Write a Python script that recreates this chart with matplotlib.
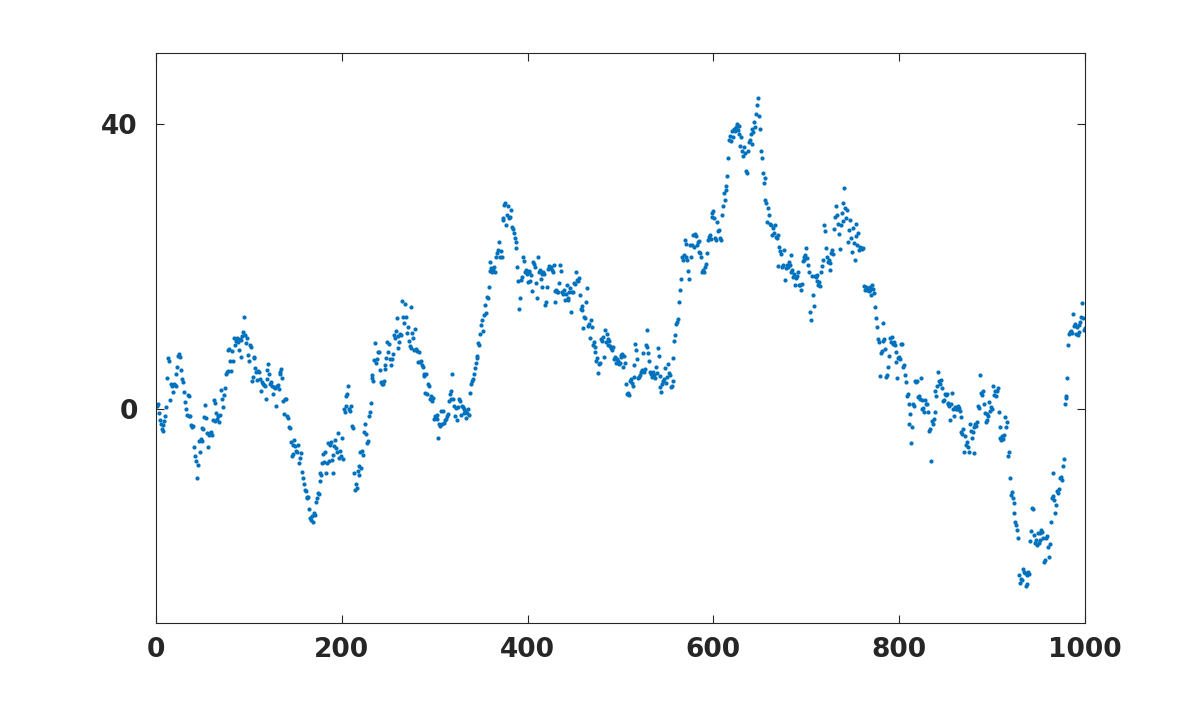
import numpy as np
import matplotlib
matplotlib.use("Agg")
import matplotlib.pyplot as plt

# random walk values, one per step (steps 1..1000)
walk = [
    0.5, 0.8, -0.5, -1.5, -2.0, -2.8, -3.0, -2.2, -1.6, -1.0,
    0.3, 4.4, 7.2, 6.8, 1.3, 3.5, 3.3, 2.4, 3.6, 3.4,
    5.0, 3.2, 6.0, 7.5, 7.8, 7.3, 5.5, 4.2, 3.8, 2.4,
    1.0, 0.0, -0.8, 2.0, 1.8, -1.0, -0.9, -2.2, -2.5, -2.4,
    -5.3, -6.5, -7.3, -9.7, -7.8, -4.5, -6.0, -4.2, -4.4, -2.6,
    -2.8, -1.1, 0.6, -1.2, -3.3, -5.3, -3.6, -3.4, -3.2, -3.6,
    -1.5, 1.3, 0.9, -1.6, -0.5, -1.3, -1.0, -1.8, -0.8, 2.7,
    1.4, 0.3, 2.0, 3.0, 5.0, 5.2, 5.4, 8.3, 8.5, 6.8,
    5.4, 8.2, 6.8, 10.0, 9.0, 9.6, 10.0, 9.5, 8.3, 9.8,
    7.3, 9.7, 10.3, 10.8, 13.0, 10.4, 9.3, 10.0, 7.6, 6.8,
    9.0, 8.8, 4.0, 4.5, 7.4, 7.2, 5.8, 5.3, 4.1, 5.4,
    5.2, 4.2, 2.5, 3.8, 3.5, 3.4, 3.2, 1.5, 4.2, 5.5,
    6.4, 5.0, 3.5, 3.8, 3.3, 2.1, 3.1, 3.0, 0.4, 3.2,
    3.4, 2.9, 5.3, 5.0, 5.6, 4.4, 1.2, -0.6, 1.4, 1.5,
    -1.0, -1.2, -2.5, -2.6, -4.6, -6.5, -5.0, -6.3, -4.3, -5.2,
    -5.8, -6.0, -5.0, -7.6, -6.8, -6.2, -8.8, -9.6, -10.5, -11.3,
    -11.5, -12.3, -12.5, -12.3, -14.0, -15.2, -15.6, -15.0, -15.8, -14.5,
    -14.8, -13.0, -12.5, -11.7, -11.9, -10.0, -8.9, -9.2, -7.5, -6.3,
    -7.4, -6.0, -9.0, -7.6, -4.8, -7.3, -5.0, -4.6, -7.1, -6.4,
    -8.9, -5.1, -4.3, -5.5, -6.0, -3.4, -6.8, -5.8, -6.5, -4.0,
    -7.0, 0.0, -0.4, 1.8, 0.5, 2.2, 3.2, 0.0, -0.2, 0.4,
    -2.3, -2.6, -8.9, -11.3, -10.5, -11.0, -8.6, -9.2, -8.0, -6.0,
    -8.3, -5.8, -6.4, -3.2, -2.0, -3.5, -4.8, -4.5, -1.0, -0.4,
    0.9, 4.4, 4.8, 4.0, 6.9, 9.3, 6.5, 7.1, 8.0, 8.0,
    5.5, 3.8, 3.5, 3.6, 3.9, 5.6, 6.2, 7.2, 9.4, 8.0,
    9.2, 7.0, 6.2, 7.0, 7.7, 10.4, 10.0, 11.0, 12.8, 10.3,
    8.6, 9.5, 10.6, 10.4, 15.2, 13.0, 12.1, 14.8, 13.0, 10.7,
    11.6, 9.6, 8.9, 8.6, 14.4, 10.7, 10.0, 8.3, 11.2, 8.5,
    8.2, 6.6, 8.0, 6.6, 6.8, 6.2, 6.0, 4.9, 4.6, 2.3,
    4.9, 2.2, 3.5, 3.3, 1.5, 1.8, 1.2, 1.6, -1.4, -1.0,
    -0.9, -1.4, -0.8, -4.0, -2.1, -2.4, -0.2, -2.0, -0.3, -1.9,
    -1.5, -1.3, -1.0, -0.6, 1.2, 2.1, 1.5, 2.6, 4.9, 1.4,
    0.5, -1.0, 0.2, -1.5, 0.3, 1.5, 1.2, -0.8, 0.5, 0.3,
    -0.5, 0.0, -0.3, -1.2, -0.5, 0.1, -0.8, 2.3, 3.5, 3.9,
    4.2, 5.0, 5.8, 6.5, 7.5, 7.2, 9.3, 9.0, 10.5, 11.8,
    12.5, 11.0, 13.2, 14.6, 13.5, 15.8, 15.6, 17.2, 20.6, 19.4,
    19.8, 19.2, 19.6, 20.0, 19.3, 21.3, 22.0, 22.4, 23.5, 21.3,
    22.2, 21.4, 26.8, 26.5, 28.7, 28.9, 25.8, 27.2, 28.5, 26.8,
    27.0, 27.9, 25.6, 25.3, 24.8, 24.0, 22.7, 23.5, 20.0, 18.0,
    14.1, 15.6, 18.2, 18.5, 21.4, 20.8, 19.3, 19.6, 19.0, 17.9,
    19.4, 19.2, 18.0, 18.9, 16.6, 20.6, 20.4, 20.0, 17.7, 15.6,
    21.4, 19.2, 19.5, 18.3, 19.0, 17.2, 19.3, 19.0, 14.6, 15.0,
    17.2, 19.7, 20.1, 19.8, 20.0, 19.6, 19.3, 20.2, 16.6, 15.1,
    16.8, 16.4, 16.5, 17.7, 20.3, 19.4, 16.5, 16.2, 16.7, 15.4,
    16.2, 17.5, 15.6, 15.4, 16.5, 17.0, 13.7, 16.5, 16.4, 17.7,
    17.6, 19.3, 18.2, 18.0, 18.4, 16.0, 14.1, 14.5, 14.0, 11.4,
    13.0, 12.8, 15.0, 17.0, 11.7, 12.0, 10.0, 12.5, 11.6, 9.0,
    9.4, 8.8, 8.0, 6.8, 7.2, 5.1, 6.3, 6.5, 9.9, 9.6,
    10.1, 7.3, 11.1, 9.4, 10.5, 9.8, 9.0, 9.6, 8.9, 8.6,
    8.3, 8.8, 7.0, 7.4, 6.5, 7.1, 6.8, 6.3, 6.5, 7.6,
    7.3, 7.8, 5.9, 7.5, 6.5, 3.5, 2.1, 2.3, 2.0, 3.9,
    4.2, 3.7, 3.2, 4.5, 6.2, 9.2, 8.3, 7.0, 4.4, 4.5,
    4.8, 5.3, 5.5, 7.9, 5.2, 5.6, 9.0, 8.8, 11.1, 7.9,
    6.8, 5.3, 5.0, 4.5, 5.2, 4.8, 4.4, 6.0, 5.1, 8.6,
    7.5, 4.6, 3.1, 2.4, 3.6, 3.9, 4.2, 5.8, 3.7, 4.5,
    6.3, 5.1, 4.8, 3.1, 3.3, 3.9, 7.2, 9.6, 10.4, 12.0,
    12.3, 12.6, 15.1, 16.8, 18.3, 21.4, 21.0, 21.6, 23.8, 21.3,
    23.2, 21.0, 19.4, 18.3, 23.0, 21.3, 23.1, 24.4, 22.8, 24.6,
    24.3, 23.0, 23.5, 22.1, 23.6, 22.0, 21.4, 19.3, 19.5, 19.2,
    20.0, 20.4, 22.0, 23.8, 24.2, 24.5, 23.9, 27.5, 27.0, 27.8,
    26.8, 24.0, 23.8, 26.3, 25.0, 25.2, 24.1, 23.7, 27.2, 28.5,
    30.3, 29.4, 31.3, 30.8, 32.8, 35.2, 37.8, 38.3, 37.6, 39.0,
    38.2, 39.4, 39.0, 39.6, 40.0, 39.2, 38.7, 39.8, 37.0, 38.2,
    36.3, 35.5, 36.8, 36.0, 33.4, 33.1, 36.2, 37.5, 37.8, 38.6,
    37.2, 39.4, 38.9, 40.3, 39.6, 41.4, 42.7, 43.7, 41.2, 39.4,
    36.3, 35.2, 33.1, 31.8, 32.5, 29.3, 29.0, 26.3, 28.2, 27.2,
    26.0, 25.9, 24.4, 25.5, 24.8, 25.9, 24.2, 24.0, 24.4, 20.1,
    22.8, 22.2, 21.8, 19.9, 20.2, 22.3, 18.2, 19.8, 20.3, 20.0,
    20.6, 20.3, 21.7, 19.3, 19.6, 18.6, 19.0, 17.5, 18.4, 18.7,
    19.3, 17.5, 17.4, 16.8, 17.6, 20.8, 21.3, 21.0, 21.6, 22.7,
    21.2, 20.3, 19.3, 13.6, 12.5, 18.7, 16.0, 14.5, 18.7, 18.5,
    18.8, 18.0, 17.5, 17.8, 17.3, 19.2, 20.1, 21.0, 25.9, 25.0,
    22.7, 21.4, 20.7, 21.0, 20.5, 19.6, 22.0, 22.3, 21.8, 25.3,
    27.0, 28.5, 27.3, 26.0, 24.6, 22.5, 25.8, 27.5, 26.4, 29.0,
    31.0, 28.2, 26.8, 27.9, 23.5, 25.2, 26.5, 24.0, 22.1, 25.5,
    23.4, 21.0, 24.3, 26.0, 23.0, 24.8, 22.4, 22.8, 22.6, 22.5,
    22.7, 17.3, 16.8, 17.1, 16.7, 17.0, 16.6, 17.2, 16.8, 16.0,
    17.5, 16.9, 16.3, 14.4, 12.8, 11.5, 9.8, 9.4, 4.6, 7.9,
    8.2, 12.1, 9.6, 9.9, 8.5, 4.5, 4.8, 5.9, 7.5, 10.0,
    9.4, 10.1, 9.2, 9.5, 9.0, 8.0, 6.6, 4.4, 7.2, 7.4,
    7.0, 9.2, 9.1, 6.0, 6.2, 4.8, 3.8, 1.8, 2.2, 0.7,
    -2.0, -0.7, -4.8, -2.5, 0.7, 0.4, 3.9, 3.8, 4.0, 1.7,
    1.9, 1.5, 4.4, 0.1, 1.3, 0.2, -0.4, 1.3, 0.8, 0.8,
    -0.4, -3.1, -2.8, -7.2, -1.7, -2.0, -1.4, 2.5, -0.4, 1.8,
    3.2, 5.2, 3.9, 3.6, 4.1, 3.0, 1.1, 1.3, 2.1, 2.0,
    2.2, 0.7, 0.9, 0.5, -1.5, 0.7, 2.3, 0.1, -1.0, 0.3,
    0.1, 0.0, 0.4, 0.2, -0.3, -1.1, -3.2, -3.5, -2.8, -6.0,
    -3.8, -5.0, -4.6, -5.3, -6.0, -2.0, -3.0, -4.0, -3.2, -2.5,
    -6.2, -2.1, -2.3, -1.8, 0.4, 0.2, 4.8, 2.3, 2.0, 2.5,
    0.8, -0.5, -1.8, -1.5, -0.6, -1.0, 1.0, -0.2, 0.3, 0.0,
    3.2, 2.0, 2.5, 1.8, 2.6, 3.0, -0.4, -2.5, -4.0, -4.3,
    -3.8, -4.2, -3.6, -1.1, -2.5, -1.8, -6.5, -6.0, -9.7, -12.0,
    -11.6, -12.4, -14.6, -13.1, -15.8, -16.2, -16.9, -18.0, -23.3, -24.4,
    -23.8, -24.0, -22.4, -22.9, -23.0, -24.8, -24.5, -23.2, -22.9, -23.1,
    -18.5, -17.1, -13.8, -14.0, -17.6, -18.8, -18.4, -19.0, -17.3, -18.7,
    -17.3, -18.4, -17.0, -17.2, -18.0, -21.4, -21.2, -18.1, -17.8, -19.4,
    -20.8, -18.9, -15.8, -12.4, -12.2, -9.0, -12.7, -14.6, -13.4, -11.5,
    -11.8, -11.2, -9.7, -9.5, -9.9, -7.9, -7.0, 0.7, 1.8, 1.6,
    4.4, 9.0, 10.5, 10.8, 11.0, 10.7, 13.4, 11.7, 11.9, 10.6,
    11.5, 10.4, 10.9, 11.8, 12.3, 13.0, 14.9, 12.8, 11.1, 11.4,
]
steps = np.arange(1, len(walk) + 1)

x_ticks = [0, 200, 400, 600, 800, 1000]
y_ticks = [0, 40]

axcol = '#262626'

fig = plt.figure(figsize=(12, 7.02), dpi=100)
ax = fig.add_axes([0.13, 0.1125, 0.7742, 0.812])
ax.plot(steps, walk, 'o', color='#0072BD', markersize=3.0, markeredgewidth=0)

ax.set_xlim(0, 1000)
ax.set_ylim(-30, 50)
ax.set_xticks(x_ticks)
ax.set_yticks(y_ticks)
ax.tick_params(direction='in', length=6, width=0.8, colors=axcol,
               top=True, right=True, labelsize=19)
ax.tick_params(axis='x', pad=10)
ax.tick_params(axis='y', pad=13)
for lab in ax.get_xticklabels() + ax.get_yticklabels():
    lab.set_fontweight('bold')
for s in ax.spines.values():
    s.set_color(axcol)
    s.set_linewidth(0.8)

fig.savefig('out.png', dpi=100)
